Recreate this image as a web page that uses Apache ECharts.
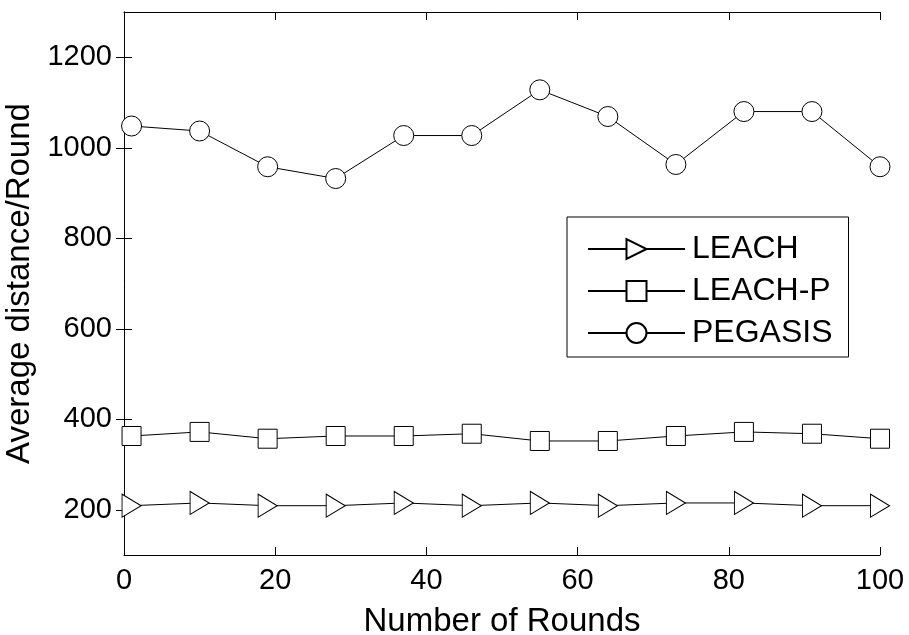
<!DOCTYPE html>
<html>
<head>
<meta charset="utf-8">
<script src="https://cdn.jsdelivr.net/npm/echarts@6/dist/echarts.min.js"></script>
<style>
html,body{margin:0;padding:0;background:#fff;}
#chart{width:909px;height:635px;}
</style>
</head>
<body>
<div id="chart"></div>
<script>
const rounds = [1, 10, 19, 28, 37, 46, 55, 64, 73, 82, 91, 100];
const leach = [209, 215, 209, 209, 215, 209, 215, 209, 215, 215, 209, 209];
const leachP = [363, 372, 357, 363, 363, 368, 352, 352, 363, 372, 368, 357];
const pegasis = [1048, 1037, 958, 932, 1027, 1027, 1128, 1069, 963, 1080, 1080, 958];
const xTicks = [0, 20, 40, 60, 80, 100];
const yTicks = [200, 400, 600, 800, 1000, 1200];
const seriesNames = ['LEACH', 'LEACH-P', 'PEGASIS'];

const FONT = 'Liberation Sans';
function pairs(ys){ return rounds.map((x,i)=>[x, ys[i]]); }
const mk = {color:'#fff', borderColor:'#000', borderWidth:1};
const ln = {color:'#000', width:1};
const plain = v => String(v);

const chart = echarts.init(document.getElementById('chart'));
chart.setOption({
  animation:false,
  backgroundColor:'#fff',
  textStyle:{fontFamily:FONT, color:'#000'},
  grid:{left:124, right:29, top:12, bottom:80, containLabel:false, outerBoundsMode:'none'},
  legend:{
    left:567, top:217,
    orient:'vertical',
    backgroundColor:'#fff',
    borderColor:'#000', borderWidth:1,
    padding:[16, 16, 8, 20],
    itemWidth:97, itemHeight:25, itemGap:10,
    textStyle:{fontFamily:FONT, fontSize:32, color:'#000', padding:[0,0,0,2]},
    data:seriesNames
  },
  xAxis:[{
    type:'value', min:0, max:100,
    axisLabel:{customValues:xTicks, formatter:plain, fontFamily:FONT, fontSize:29, color:'#000', margin:11},
    axisTick:{customValues:xTicks, inside:true, length:8, lineStyle:{color:'#000'}},
    axisLine:{lineStyle:{color:'#000', width:1}},
    splitLine:{show:false},
    name:'Number of Rounds', nameLocation:'middle', nameGap:50,
    nameTextStyle:{fontFamily:FONT, fontSize:33, color:'#000'}
  },{
    type:'value', min:0, max:100, position:'top',
    axisLabel:{show:false},
    axisTick:{customValues:xTicks, inside:true, length:8, lineStyle:{color:'#000'}},
    axisLine:{lineStyle:{color:'#000', width:1}},
    splitLine:{show:false}
  }],
  yAxis:[{
    type:'value', min:100, max:1300,
    axisLabel:{customValues:yTicks, formatter:plain, fontFamily:FONT, fontSize:29, color:'#000', margin:12},
    axisTick:{customValues:yTicks, inside:true, length:8, lineStyle:{color:'#000'}},
    axisLine:{show:true, lineStyle:{color:'#000', width:1}},
    splitLine:{show:false},
    name:'Average distance/Round', nameLocation:'middle', nameGap:79,
    nameTextStyle:{fontFamily:FONT, fontSize:33, color:'#000'}
  },{
    type:'value', min:100, max:1300, position:'right',
    axisLabel:{show:false},
    axisTick:{customValues:yTicks, inside:true, length:8, lineStyle:{color:'#000'}},
    axisLine:{show:true, lineStyle:{color:'#000', width:1}},
    splitLine:{show:false}
  }],
  series:[
    {name:seriesNames[0], type:'line', data:pairs(leach), symbol:'triangle', symbolSize:[23,19], symbolRotate:-90,
     itemStyle:mk, lineStyle:ln, z:3},
    {name:seriesNames[1], type:'line', data:pairs(leachP), symbol:'rect', symbolSize:19,
     itemStyle:mk, lineStyle:ln, z:3},
    {name:seriesNames[2], type:'line', data:pairs(pegasis), symbol:'circle', symbolSize:20,
     itemStyle:mk, lineStyle:ln, z:3}
  ]
});
</script>
</body>
</html>
